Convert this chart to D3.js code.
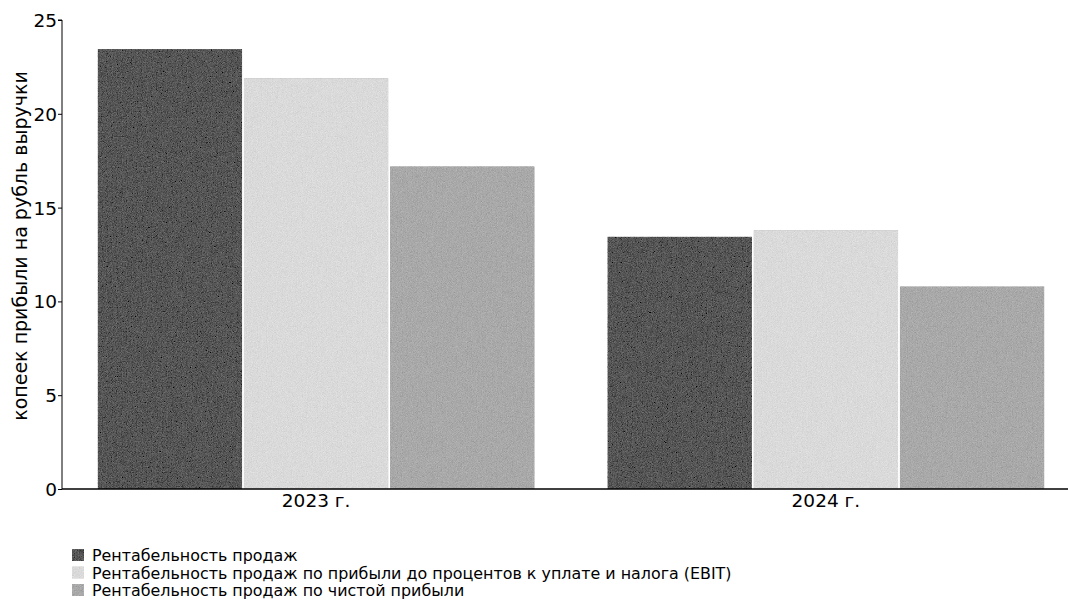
<!DOCTYPE html>
<html><head><meta charset="utf-8">
<script src="https://cdn.jsdelivr.net/npm/d3@7"></script>
<style>body{margin:0;background:#fff}svg{display:block}</style>
</head><body>
<svg id="c" width="1068" height="612"></svg>
<script>
const categories = ["2023 г.", "2024 г."];
const seriesNames = [
  "Рентабельность продаж",
  "Рентабельность продаж по прибыли до процентов к уплате и налога (EBIT)",
  "Рентабельность продаж по чистой прибыли"
];
const salesMargin = [23.45, 13.45];
const ebitMargin = [21.9, 13.8];
const netMargin = [17.2, 10.8];
const yTicks = [0, 5, 10, 15, 20, 25];
const yLabel = "копеек прибыли на рубль выручки";
const colors = ["#565656", "#dadada", "#a9a9a9"];

const series = [salesMargin, ebitMargin, netMargin];
const svg = d3.select("#c");
const font = "DejaVu Sans, Verdana, sans-serif";

const defs = svg.append("defs");
const f = defs.append("filter").attr("id","grain").attr("x",0).attr("y",0).attr("width",1).attr("height",1);
f.append("feTurbulence").attr("type","fractalNoise").attr("baseFrequency",1.2).attr("numOctaves",1).attr("seed",3).attr("result","n");
f.append("feColorMatrix").attr("in","n").attr("type","matrix")
 .attr("values","0.33 0.33 0.33 0 0  0.33 0.33 0.33 0 0  0.33 0.33 0.33 0 0  0 0 0 0 1").attr("result","g");
f.append("feComposite").attr("in","SourceGraphic").attr("in2","g").attr("operator","arithmetic")
 .attr("k1",0).attr("k2",1).attr("k3",0.45).attr("k4",-0.225).attr("result","m");
f.append("feComposite").attr("in","m").attr("in2","SourceGraphic").attr("operator","in");

const x0 = d3.scaleBand().domain(categories).range([62, 1080]).paddingInner(0.143).paddingOuter(0.07);
const x1 = d3.scaleBand().domain(d3.range(series.length)).range([0, x0.bandwidth()]).paddingInner(0.012);
const y = d3.scaleLinear().domain([0, 25]).range([489, 20]);

const g = svg.append("g");
categories.forEach((c, ci) => {
  g.selectAll(null).data(series.map((s, si) => ({si, v: s[ci]}))).join("rect")
    .attr("x", d => x0(c) + x1(d.si))
    .attr("width", x1.bandwidth())
    .attr("y", d => y(d.v))
    .attr("height", d => y(0) - y(d.v))
    .attr("fill", d => colors[d.si])
    .attr("filter", "url(#grain)");
});

const ya = svg.append("g").attr("transform", "translate(62,0)")
  .call(d3.axisLeft(y).tickValues(yTicks).tickSize(4).tickPadding(1));
ya.select(".domain").attr("stroke", "#000").attr("d", `M-4,${y(25)}H0V${y(0)}`);
ya.selectAll("text").attr("font-family", font).attr("font-size", 18.5).attr("fill", "#000").attr("dy","0.35em");

const xa = svg.append("g").attr("transform", `translate(0,${y(0)})`)
  .call(d3.axisBottom(x0).tickSize(0).tickPadding(5));
xa.select(".domain").attr("stroke", "#000").attr("stroke-width", 1.5).attr("d", `M62,0H1068`);
xa.selectAll("text").attr("font-family", font).attr("font-size", 18.5).attr("fill", "#000");

svg.append("text").attr("transform", `translate(27,246) rotate(-90)`)
  .attr("text-anchor", "middle").attr("font-family", font).attr("font-size", 19).text(yLabel);

const lg = svg.append("g").attr("transform", "translate(72,549)");
seriesNames.forEach((n, i) => {
  lg.append("rect").attr("x", 0).attr("y", i*17.5).attr("width", 12).attr("height", 12)
    .attr("fill", colors[i]).attr("filter", "url(#grain)");
  lg.append("text").attr("x", 20).attr("y", i*17.5 + 12).attr("font-family", font)
    .attr("font-size", 15.9).text(n);
});
</script>
</body></html>
